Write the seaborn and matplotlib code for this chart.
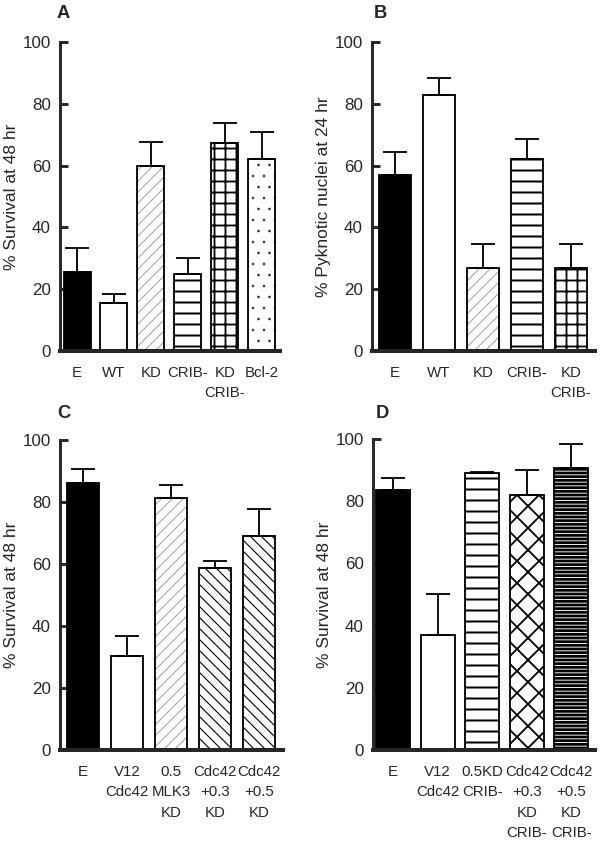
import numpy as np
import matplotlib
matplotlib.use('Agg')
import matplotlib.pyplot as plt
import seaborn as sns

# Datos (media y extremo superior de la barra de error)
labels_a = ['E', 'WT', 'KD', 'CRIB-', 'KD\nCRIB-', 'Bcl-2']
means_a = [25.7, 15.6, 60.0, 24.8, 67.4, 62.2]
tops_a = [33.2, 18.4, 67.5, 30.2, 73.7, 70.8]

labels_b = ['E', 'WT', 'KD', 'CRIB-', 'KD\nCRIB-']
means_b = [57.0, 82.8, 26.8, 62.2, 27.0]
tops_b = [64.3, 88.3, 34.6, 68.6, 34.6]

labels_c = ['E', 'V12\nCdc42', '0.5\nMLK3\nKD', 'Cdc42\n+0.3\nKD', 'Cdc42\n+0.5\nKD']
means_c = [86.0, 30.3, 81.2, 58.7, 69.1]
tops_c = [90.5, 36.8, 85.5, 60.9, 77.6]

labels_d = ['E', 'V12\nCdc42', '0.5KD\nCRIB-', 'Cdc42\n+0.3\nKD\nCRIB-', 'Cdc42\n+0.5\nKD\nCRIB-']
means_d = [83.7, 37.0, 89.1, 81.9, 90.7]
tops_d = [87.4, 50.1, 89.3, 90.1, 98.4]

ylabel_survival = '% Survival at 48 hr'
ylabel_pyknotic = '% Pyknotic nuclei at 24 hr'
yticks = [0, 20, 40, 60, 80, 100]

# Estilos de relleno: (color de fondo, trama, color de trama, grosor de trama)
SOLID = ('black', '', 'black', 1.0)
OPEN = ('white', '', 'black', 1.0)
DIAG_GRAY = ('white', '//', '#9a9a9a', 1.0)
HLINES = ('white', '-', 'black', 2.2)
GRID = ('white', '+', 'black', 2.0)
DOTS = ('white', '.', '#333333', 0.4)
BACK = ('white', '\\\\', 'black', 1.2)
CROSS = ('white', 'x', 'black', 2.0)
DENSE_H = ('black', '---', 'white', 1.0)

DPI = 66


def draw_panel(fig, rect, labels, means, tops, styles, ylabel, xlim, width, letter, letter_xy):
    ax = fig.add_axes(rect)
    sns.barplot(x=labels, y=means, ax=ax, color='white', width=width,
                edgecolor='black', linewidth=0, saturation=1)
    bars = list(ax.patches)
    for p, (face, hatch, hcolor, hlw) in zip(bars, styles):
        p.set_facecolor(face)
        p.set_hatch(hatch)
        p.set_edgecolor(hcolor)
        p.set_linewidth(0)
        if hasattr(p, 'set_hatch_linewidth'):
            p.set_hatch_linewidth(hlw)
    # contorno de las barras
    sns.barplot(x=labels, y=means, ax=ax, fill=False, color='black',
                width=width, linewidth=2.0)

    means = np.asarray(means)
    up = np.asarray(tops) - means
    ax.errorbar(np.arange(len(means)), means, yerr=[np.zeros_like(up), up],
                fmt='none', ecolor='black', elinewidth=2.0, capsize=13,
                capthick=2.0, zorder=5)

    ax.set_ylim(0, 100)
    ax.set_xlim(*xlim)
    ax.set_yticks(yticks)
    ax.tick_params(axis='y', direction='in', length=9, width=3.2, pad=10, labelsize=18.5)
    ax.tick_params(axis='x', length=0, pad=16, labelsize=16.4)
    for t in ax.get_xticklabels():
        t.set_linespacing(1.6)
        t.set_verticalalignment('top')
    ax.set_xlabel('')
    ax.set_ylabel(ylabel, fontsize=19)
    ax.yaxis.set_label_coords(-0.185, 0.5)
    sns.despine(ax=ax)
    ax.spines['left'].set_linewidth(3.2)
    ax.spines['bottom'].set_linewidth(4.4)
    ax.patch.set_alpha(0)
    fig.text(letter_xy[0], letter_xy[1], letter, fontsize=20, fontweight='bold',
             ha='left', va='top')
    return ax


sns.set_theme(style='ticks')
plt.rcParams['font.family'] = ['Liberation Sans', 'DejaVu Sans']
plt.rcParams['hatch.linewidth'] = 1.5

W, H = 602, 845
fig = plt.figure(figsize=(W / DPI, H / DPI), dpi=DPI)
fig.patch.set_facecolor('white')


def rect(x0, x1, y100, y0):
    return [x0 / W, (H - y0) / H, (x1 - x0) / W, (y0 - y100) / H]


draw_panel(fig, rect(60, 280, 42, 351), labels_a, means_a, tops_a,
           [SOLID, OPEN, DIAG_GRAY, HLINES, GRID, DOTS],
           ylabel_survival, (-0.46, 5.49), 0.73, 'A', (57 / W, 1 - 5 / H))
draw_panel(fig, rect(372, 595, 42, 351), labels_b, means_b, tops_b,
           [SOLID, OPEN, DIAG_GRAY, HLINES, GRID],
           ylabel_pyknotic, (-0.52, 4.55), 0.73, 'B', (374 / W, 1 - 5 / H))
draw_panel(fig, rect(60, 283, 440, 750), labels_c, means_c, tops_c,
           [SOLID, OPEN, DIAG_GRAY, BACK, BACK],
           ylabel_survival, (-0.52, 4.55), 0.73, 'C', (57 / W, 1 - 405 / H))
draw_panel(fig, rect(373, 595, 439, 750), labels_d, means_d, tops_d,
           [SOLID, OPEN, HLINES, CROSS, DENSE_H],
           ylabel_survival, (-0.45, 4.53), 0.76, 'D', (376 / W, 1 - 405 / H))

fig.savefig('out.png', dpi=DPI, facecolor='white')
